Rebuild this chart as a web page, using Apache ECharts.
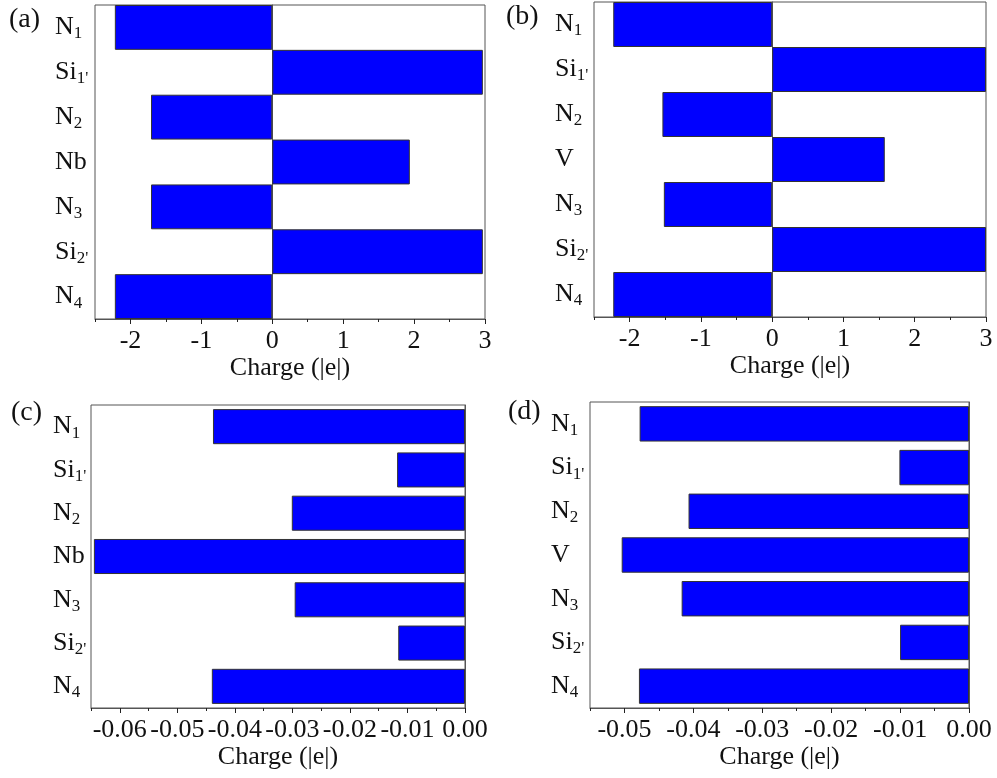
<!DOCTYPE html>
<html>
<head>
<meta charset="utf-8">
<script src="https://cdn.jsdelivr.net/npm/echarts@6/dist/echarts.min.js"></script>
<style>
  html, body { margin: 0; padding: 0; background: #fff; }
  #chart { width: 997px; height: 778px; }
</style>
</head>
<body>
<div id="chart"></div>
<script>
// sites, top to bottom ("_" marks the subscript)
const sitesNb = ['N_1', "Si_1'", 'N_2', 'Nb', 'N_3', "Si_2'", 'N_4']
const sitesV = ['N_1', "Si_1'", 'N_2', 'V', 'N_3', "Si_2'", 'N_4']

// charge values
const chargeA = [-2.22, 2.97, -1.71, 1.94, -1.71, 2.97, -2.22]
const chargeB = [-2.23, 3.0, -1.54, 1.58, -1.52, 3.0, -2.23]
const chargeC = [-0.0438, -0.0118, -0.0301, -0.0645, -0.0296, -0.0116, -0.0440]
const chargeD = [-0.0478, -0.0101, -0.0407, -0.0504, -0.0417, -0.0100, -0.0479]

// tick labels
const ticksAB = [-2, -1, 0, 1, 2, 3]
const ticksC = [-0.06, -0.05, -0.04, -0.03, -0.02, -0.01, 0]
const ticksD = [-0.05, -0.04, -0.03, -0.02, -0.01, 0]

const FONT = "'Liberation Serif', 'Times New Roman', serif"
const axisColor = '#555'

const panels = [
    { tag: '(a)', sites: sitesNb, data: chargeA, ticks: ticksAB, min: -2.5, max: 3, minor: 0.5, digits: 0,
      grid: { left: 95, top: 5, width: 390, height: 314 }, gap: '0%', labelMargin: 40, nameGap: 36, tagPos: [9, 6] },
    { tag: '(b)', sites: sitesV, data: chargeB, ticks: ticksAB, min: -2.5, max: 3, minor: 0.5, digits: 0,
      grid: { left: 594, top: 2, width: 392, height: 315 }, gap: '0%', labelMargin: 39, nameGap: 36, tagPos: [506, 3] },
    { tag: '(c)', sites: sitesNb, data: chargeC, ticks: ticksC, min: -0.065, max: 0, minor: 0.005, digits: 2,
      grid: { left: 91, top: 405, width: 374, height: 303 }, gap: '19%', labelMargin: 38, nameGap: 35, tagPos: [11, 399] },
    { tag: '(d)', sites: sitesV, data: chargeD, ticks: ticksD, min: -0.055, max: 0, minor: 0.005, digits: 2,
      grid: { left: 590, top: 402, width: 379, height: 306 }, gap: '19%', labelMargin: 39, nameGap: 35, tagPos: [508, 398] }
]

function siteLabel (v) {
    const parts = v.split('_')
    if (parts.length === 1) return '{b|' + parts[0] + '}'
    return '{b|' + parts[0] + '}{s|' + parts[1] + '}'
}

const grids = []
const xAxes = []
const yAxes = []
const series = []
const graphics = []

panels.forEach((p, i) => {
    grids.push(Object.assign({
        show: true,
        borderColor: axisColor,
        borderWidth: 1,
        backgroundColor: 'transparent'
    }, p.grid))

    // main axis: major ticks + labels
    xAxes.push({
        type: 'value',
        gridIndex: i,
        min: p.min,
        max: p.max,
        name: 'Charge (|e|)',
        nameLocation: 'middle',
        nameGap: p.nameGap,
        nameTextStyle: { fontFamily: FONT, fontSize: 26, color: '#111' },
        axisLine: { show: true, lineStyle: { color: axisColor, width: 1 } },
        axisTick: { show: true, customValues: p.ticks, length: 5, lineStyle: { color: '#222' } },
        axisLabel: {
            customValues: p.ticks,
            margin: 9,
            fontFamily: FONT,
            fontSize: 26,
            color: '#111',
            formatter: v => (p.digits ? Number(v).toFixed(p.digits) : String(Math.round(v)))
        },
        splitLine: { show: false }
    })
    // second axis: minor ticks only
    xAxes.push({
        type: 'value',
        gridIndex: i,
        min: p.min,
        max: p.max,
        interval: p.minor,
        position: 'bottom',
        axisLine: { show: false },
        axisTick: { show: true, length: 3, lineStyle: { color: '#222' } },
        axisLabel: { show: false },
        splitLine: { show: false }
    })

    yAxes.push({
        type: 'category',
        gridIndex: i,
        inverse: true,
        data: p.sites,
        axisLine: { show: true, lineStyle: { color: axisColor, width: 1 } },
        axisTick: { show: false },
        axisLabel: {
            align: 'left',
            margin: p.labelMargin,
            formatter: siteLabel,
            rich: {
                b: { fontFamily: FONT, fontSize: 26, color: '#111', lineHeight: 30 },
                s: { fontFamily: FONT, fontSize: 17, color: '#111', lineHeight: 30, verticalAlign: 'bottom' }
            }
        },
        splitLine: { show: false }
    })

    series.push({
        type: 'bar',
        xAxisIndex: i * 2,
        yAxisIndex: i,
        data: p.data,
        barCategoryGap: p.gap,
        itemStyle: { color: '#0000ff', borderColor: '#333', borderWidth: 1 },
        animation: false
    })

    graphics.push({
        type: 'text',
        left: p.tagPos[0],
        top: p.tagPos[1],
        style: { text: p.tag, font: '28px ' + FONT, fill: '#111' }
    })
})

const myChart = echarts.init(document.getElementById('chart'))
myChart.setOption({
    backgroundColor: '#fff',
    animation: false,
    grid: grids,
    xAxis: xAxes,
    yAxis: yAxes,
    series: series,
    graphic: graphics
})
</script>
</body>
</html>
